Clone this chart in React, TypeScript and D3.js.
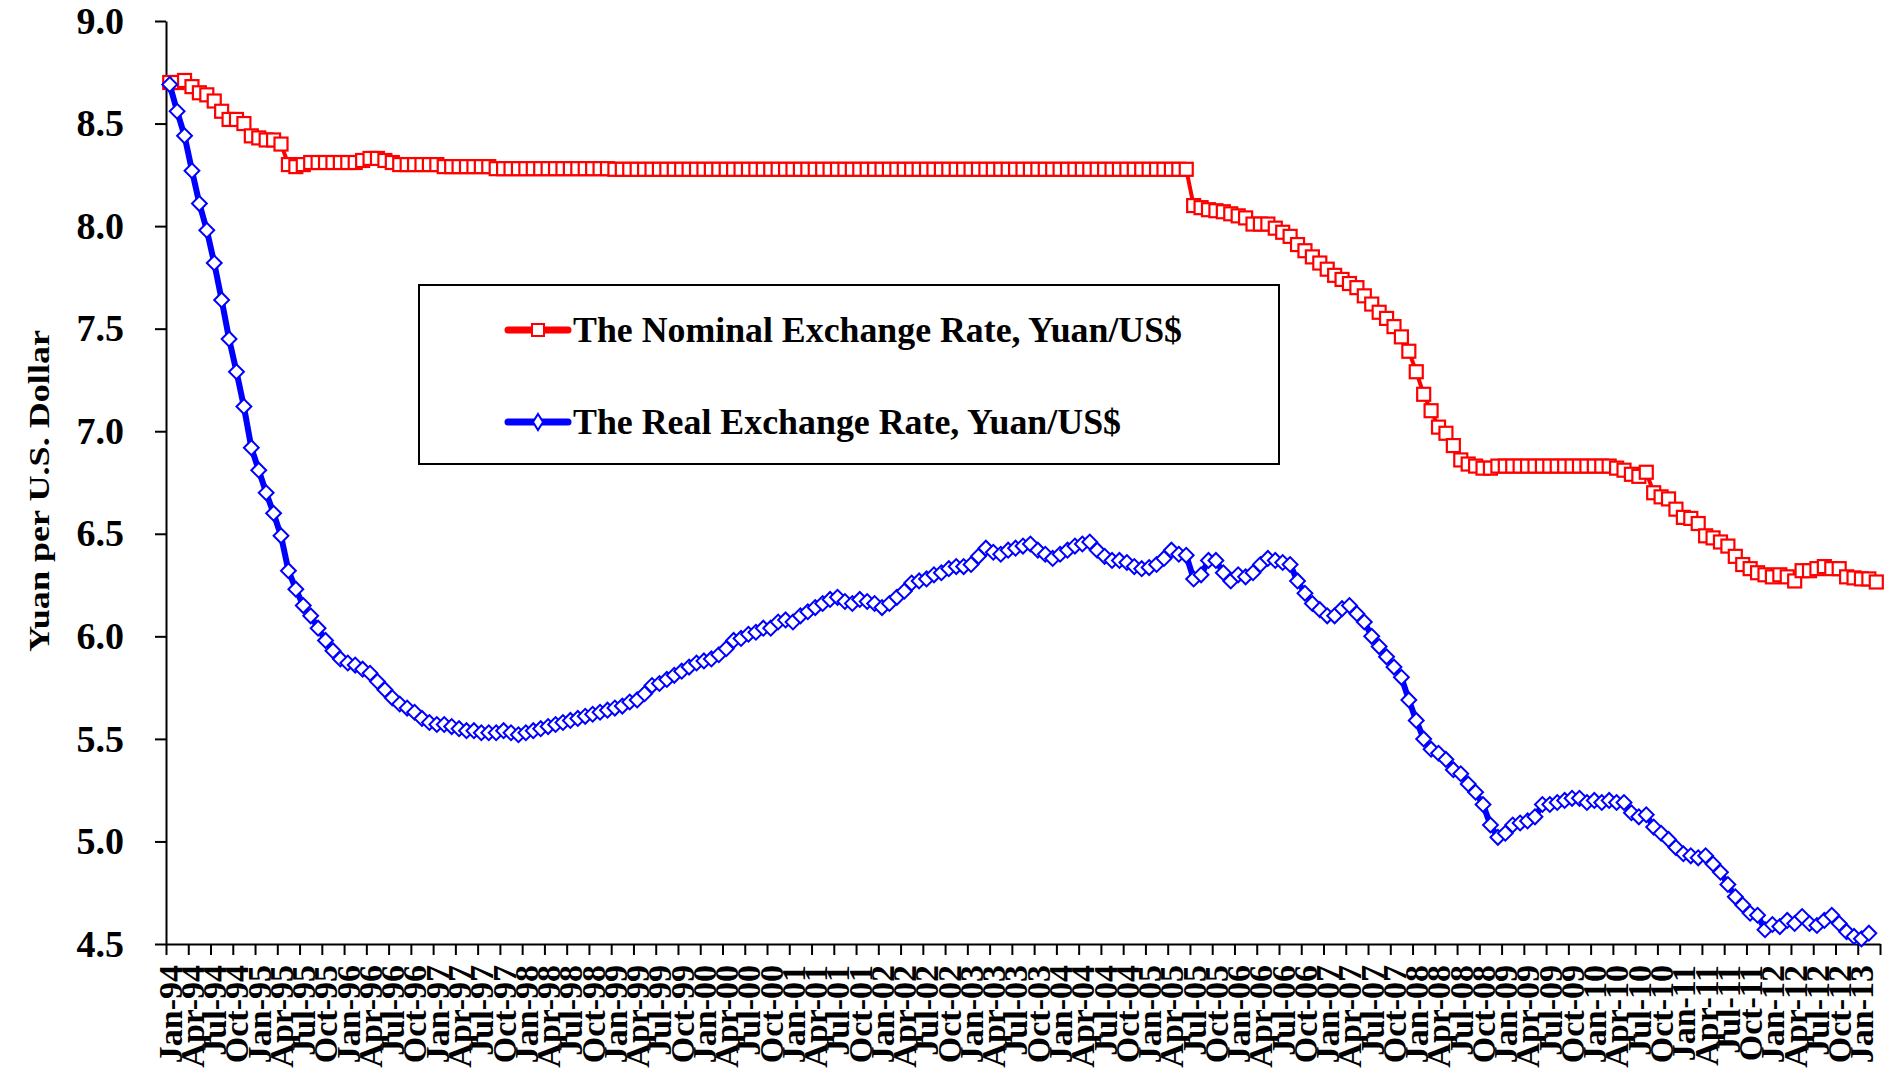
import React, { useEffect, useRef } from 'react';
import * as d3 from 'd3';

const WIDTH = 1895;
const HEIGHT = 1074;

// monthly categories, Jan-94 .. Mar-13
const MONTHS = ['Jan', 'Feb', 'Mar', 'Apr', 'May', 'Jun', 'Jul', 'Aug', 'Sep', 'Oct', 'Nov', 'Dec'];
const YEARS = [1994, 1995, 1996, 1997, 1998, 1999, 2000, 2001, 2002, 2003, 2004, 2005, 2006, 2007, 2008, 2009, 2010, 2011, 2012, 2013];
const N_MONTHS = 231;
const LABEL_EVERY = 3;

const Y_TICKS = [4.5, 5.0, 5.5, 6.0, 6.5, 7.0, 7.5, 8.0, 8.5, 9.0];

const SERIES_NAMES = ['The Nominal Exchange Rate, Yuan/US$', 'The Real Exchange Rate, Yuan/US$'];
const Y_TITLE = 'Yuan per U.S. Dollar';

// Yuan per US$, nominal (one row per year)
const nominalRate = [
  8.70, 8.70, 8.71, 8.68, 8.65, 8.64, 8.61, 8.56, 8.52, 8.52, 8.50, 8.44,
  8.43, 8.42, 8.42, 8.40, 8.30, 8.29, 8.30, 8.31, 8.31, 8.31, 8.31, 8.31,
  8.31, 8.31, 8.32, 8.33, 8.33, 8.32, 8.31, 8.30, 8.30, 8.30, 8.30, 8.30,
  8.30, 8.29, 8.29, 8.29, 8.29, 8.29, 8.29, 8.29, 8.28, 8.28, 8.28, 8.28,
  8.28, 8.28, 8.28, 8.28, 8.28, 8.28, 8.28, 8.28, 8.28, 8.28, 8.28, 8.28,
  8.277, 8.277, 8.277, 8.277, 8.277, 8.277, 8.277, 8.277, 8.277, 8.277, 8.277, 8.277,
  8.277, 8.277, 8.277, 8.277, 8.277, 8.277, 8.277, 8.277, 8.277, 8.277, 8.277, 8.277,
  8.277, 8.277, 8.277, 8.277, 8.277, 8.277, 8.277, 8.277, 8.277, 8.277, 8.277, 8.277,
  8.277, 8.277, 8.277, 8.277, 8.277, 8.277, 8.277, 8.277, 8.277, 8.277, 8.277, 8.277,
  8.277, 8.277, 8.277, 8.277, 8.277, 8.277, 8.277, 8.277, 8.277, 8.277, 8.277, 8.277,
  8.277, 8.277, 8.277, 8.277, 8.277, 8.277, 8.277, 8.277, 8.277, 8.277, 8.277, 8.277,
  8.277, 8.277, 8.277, 8.277, 8.277, 8.277, 8.10, 8.09, 8.08, 8.075, 8.07, 8.06,
  8.05, 8.04, 8.01, 8.01, 8.01, 7.99, 7.97, 7.95, 7.91, 7.88, 7.85, 7.82,
  7.79, 7.76, 7.74, 7.72, 7.70, 7.66, 7.62, 7.58, 7.55, 7.51, 7.46, 7.39,
  7.29, 7.18, 7.10, 7.02, 6.99, 6.93, 6.86, 6.84, 6.83, 6.82, 6.82, 6.83,
  6.83, 6.83, 6.83, 6.83, 6.83, 6.83, 6.83, 6.83, 6.83, 6.83, 6.83, 6.83,
  6.83, 6.83, 6.83, 6.82, 6.81, 6.79, 6.78, 6.80, 6.70, 6.68, 6.67, 6.62,
  6.58, 6.575, 6.55, 6.49, 6.48, 6.46, 6.44, 6.39, 6.35, 6.33, 6.31, 6.30,
  6.29, 6.30, 6.29, 6.27, 6.32, 6.32, 6.33, 6.34, 6.33, 6.33, 6.29, 6.285,
  6.28, 6.28, 6.265,
];

// Yuan per US$, real (one row per year)
const realRate = [
  8.69, 8.56, 8.44, 8.27, 8.11, 7.98, 7.82, 7.64, 7.45, 7.29, 7.12, 6.92,
  6.81, 6.70, 6.60, 6.49, 6.32, 6.23, 6.15, 6.10, 6.04, 5.98, 5.93, 5.89,
  5.87, 5.86, 5.84, 5.82, 5.78, 5.74, 5.70, 5.67, 5.65, 5.63, 5.60, 5.58,
  5.57, 5.57, 5.56, 5.55, 5.54, 5.54, 5.53, 5.53, 5.53, 5.54, 5.53, 5.52,
  5.53, 5.54, 5.55, 5.56, 5.57, 5.58, 5.59, 5.60, 5.61, 5.62, 5.63, 5.64,
  5.65, 5.66, 5.68, 5.69, 5.72, 5.76, 5.77, 5.79, 5.81, 5.83, 5.85, 5.87,
  5.88, 5.89, 5.91, 5.94, 5.98, 5.99, 6.01, 6.02, 6.04, 6.04, 6.07, 6.08,
  6.07, 6.10, 6.12, 6.14, 6.16, 6.18, 6.19, 6.17, 6.16, 6.18, 6.17, 6.16,
  6.14, 6.16, 6.19, 6.22, 6.26, 6.27, 6.28, 6.30, 6.31, 6.33, 6.34, 6.34,
  6.35, 6.39, 6.43, 6.41, 6.40, 6.42, 6.43, 6.44, 6.45, 6.42, 6.40, 6.38,
  6.40, 6.42, 6.44, 6.45, 6.46, 6.42, 6.39, 6.37, 6.37, 6.36, 6.34, 6.33,
  6.335, 6.35, 6.38, 6.42, 6.40, 6.395, 6.28, 6.30, 6.37, 6.37, 6.31, 6.27,
  6.30, 6.29, 6.31, 6.35, 6.38, 6.37, 6.36, 6.35, 6.27, 6.21, 6.16, 6.13,
  6.10, 6.10, 6.135, 6.15, 6.11, 6.07, 6.00, 5.95, 5.90, 5.85, 5.80, 5.69,
  5.59, 5.50, 5.45, 5.43, 5.40, 5.35, 5.33, 5.28, 5.24, 5.18, 5.08, 5.02,
  5.04, 5.08, 5.09, 5.10, 5.12, 5.18, 5.18, 5.19, 5.20, 5.21, 5.21, 5.19,
  5.20, 5.19, 5.20, 5.19, 5.19, 5.14, 5.12, 5.13, 5.07, 5.04, 5.01, 4.97,
  4.94, 4.93, 4.92, 4.93, 4.89, 4.85, 4.79, 4.73, 4.69, 4.65, 4.64, 4.57,
  4.595, 4.585, 4.615, 4.60, 4.634, 4.60, 4.59, 4.615, 4.64, 4.60, 4.56, 4.537,
  4.525, 4.553,
];

const FONT = "'Liberation Serif', 'Times New Roman', serif";
const RED = '#FF0000';
const BLUE = '#0000FF';

const categories = YEARS.flatMap(yr => MONTHS.map(m => `${m}-${String(yr).slice(2)}`)).slice(0, N_MONTHS);

export default function App() {
  const svgRef = useRef<SVGSVGElement>(null);

  useEffect(() => {
    if (!svgRef.current) return;
    const svg = d3.select(svgRef.current);
    svg.selectAll('*').remove();

    const plot = { left: 166, right: 1880, top: 21, bottom: 944 };

    const x = d3.scaleBand<string>().domain(categories).range([plot.left, plot.right]).padding(0);
    const xi = d3.scaleLinear().domain([0, categories.length]).range([plot.left, plot.right]);
    const y = d3.scaleLinear().domain([4.5, 9.0]).range([plot.bottom, plot.top]);
    const cx = (i: number) => (x(categories[i]) ?? 0) + x.bandwidth() / 2;

    // y axis
    const yAxis = svg.append('g')
      .attr('transform', `translate(${plot.left},0)`)
      .call(d3.axisLeft(y).tickValues(Y_TICKS).tickFormat(d3.format('.1f')).tickSize(11).tickSizeOuter(0).tickPadding(31));
    yAxis.selectAll('path, line').attr('stroke', '#000').attr('stroke-width', 2);
    yAxis.selectAll('text')
      .attr('font-family', FONT).attr('font-weight', 'bold').attr('font-size', 38).attr('fill', '#000');

    // x axis: tick every 3 months
    const xAxis = svg.append('g')
      .attr('transform', `translate(0,${plot.bottom})`)
      .call(d3.axisBottom(xi).tickValues(d3.range(0, categories.length + 1, LABEL_EVERY)).tickFormat(() => '').tickSize(11).tickSizeOuter(0));
    xAxis.selectAll('path, line').attr('stroke', '#000').attr('stroke-width', 2);

    // rotated month labels
    svg.append('g').selectAll('text')
      .data(categories.map((c, i) => ({ c, i })).filter(d => d.i % LABEL_EVERY === 0))
      .join('text')
      .attr('transform', d => `translate(${cx(d.i)},965) rotate(-90)`)
      .attr('text-anchor', 'end')
      .attr('dy', '0.35em')
      .attr('font-family', FONT).attr('font-weight', 'bold').attr('font-size', 34)
      .text(d => d.c);

    // y title
    svg.append('text')
      .attr('transform', 'translate(38,491) rotate(-90)')
      .attr('text-anchor', 'middle')
      .attr('dy', '0.35em')
      .attr('font-family', FONT).attr('font-weight', 'bold').attr('font-size', 30)
      .attr('textLength', 322).attr('lengthAdjust', 'spacingAndGlyphs')
      .text(Y_TITLE);

    const line = d3.line<number>().x((_, i) => cx(i)).y(d => y(d));

    // nominal
    svg.append('path').datum(nominalRate)
      .attr('d', line).attr('fill', 'none').attr('stroke', RED).attr('stroke-width', 4).attr('stroke-linejoin', 'round');
    svg.append('g').selectAll('rect').data(nominalRate).join('rect')
      .attr('x', (_, i) => cx(i) - 6.5).attr('y', d => y(d) - 6.5)
      .attr('width', 13).attr('height', 13)
      .attr('fill', '#fff').attr('stroke', RED).attr('stroke-width', 2.2);

    // real
    svg.append('path').datum(realRate)
      .attr('d', line).attr('fill', 'none').attr('stroke', BLUE).attr('stroke-width', 6).attr('stroke-linejoin', 'round');
    const diamond = d3.symbol().type(d3.symbolSquare).size(110);
    svg.append('g').selectAll('path').data(realRate).join('path')
      .attr('d', diamond)
      .attr('transform', (d, i) => `translate(${cx(i)},${y(d)}) rotate(45)`)
      .attr('fill', '#fff').attr('stroke', BLUE).attr('stroke-width', 2);

    // legend
    const legend = svg.append('g');
    legend.append('rect')
      .attr('x', 419).attr('y', 285).attr('width', 860).attr('height', 179)
      .attr('fill', '#fff').attr('stroke', '#000').attr('stroke-width', 2);
    const items = [
      { name: SERIES_NAMES[0], color: RED, cy: 330, shape: 'square', len: 609 },
      { name: SERIES_NAMES[1], color: BLUE, cy: 422, shape: 'diamond', len: 548 },
    ];
    items.forEach(it => {
      legend.append('line')
        .attr('x1', 508).attr('x2', 568).attr('y1', it.cy).attr('y2', it.cy)
        .attr('stroke', it.color).attr('stroke-width', 7).attr('stroke-linecap', 'round');
      if (it.shape === 'square') {
        legend.append('rect').attr('x', 532).attr('y', it.cy - 6).attr('width', 12).attr('height', 12)
          .attr('fill', '#fff').attr('stroke', it.color).attr('stroke-width', 2);
      } else {
        legend.append('path').attr('d', 'M0,-8L5,0L0,8L-5,0Z')
          .attr('transform', `translate(538,${it.cy})`)
          .attr('fill', '#fff').attr('stroke', it.color).attr('stroke-width', 2);
      }
      legend.append('text')
        .attr('x', 573).attr('y', it.cy + 12)
        .attr('font-family', FONT).attr('font-weight', 'bold').attr('font-size', 36)
        .attr('textLength', it.len).attr('lengthAdjust', 'spacingAndGlyphs')
        .text(it.name);
    });
  }, []);

  return (
    <svg
      ref={svgRef}
      width={WIDTH}
      height={HEIGHT}
      style={{ position: 'absolute', left: 0, top: 0, background: '#fff' }}
    />
  );
}
